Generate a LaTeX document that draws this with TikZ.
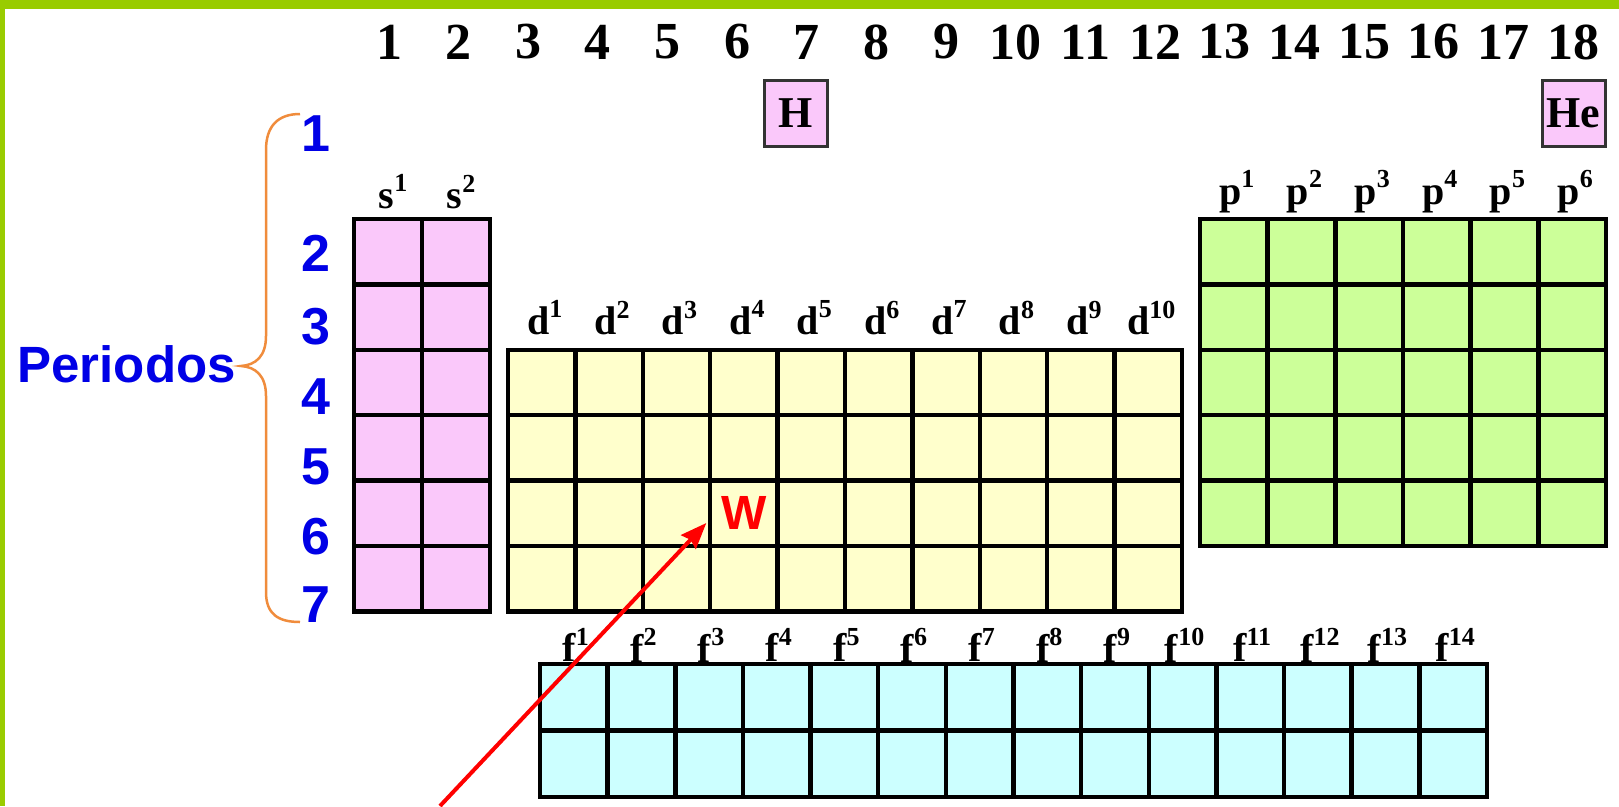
\documentclass[tikz,border=0pt]{standalone}
\usepackage{fontspec}
\setmainfont{Liberation Serif}
\setsansfont{Liberation Sans}
\usetikzlibrary{arrows.meta}

\definecolor{framegreen}{RGB}{153,204,0}
\definecolor{spink}{RGB}{250,200,250}
\definecolor{dyellow}{RGB}{255,255,204}
\definecolor{pgreen}{RGB}{204,255,153}
\definecolor{fcyan}{RGB}{204,255,255}
\definecolor{perblue}{RGB}{0,0,230}
\definecolor{braceorange}{RGB}{240,140,60}

% orbital label with its superscript
\newcommand{\orb}[2]{#1\raisebox{0.42em}{\fontsize{26}{26}\selectfont #2}}

\tikzset{
  groupnum/.style={font=\fontsize{52}{52}\selectfont\bfseries, inner sep=0pt},
  orblabel/.style={font=\fontsize{40}{40}\selectfont\bfseries, inner sep=0pt},
  pernum/.style={font=\fontsize{52}{52}\selectfont\sffamily\bfseries, text=perblue, inner sep=0pt},
  elembox/.style={draw=black!80, line width=3pt, fill=spink, minimum width=63pt,
    minimum height=66pt, font=\fontsize{44}{44}\selectfont\bfseries, inner sep=0pt},
  gridline/.style={line width=4.5pt, black, line cap=rect},
  arrowline/.style={draw=red, line width=4pt, -{Stealth[length=26pt, width=20pt, inset=3pt]}},
}

\begin{document}
\begin{tikzpicture}[x=1pt, y=-1pt]
  \useasboundingbox (0,0) rectangle (1619,806);
  \fill[white] (0,0) rectangle (1619,806);

  % Green frame
  \fill[framegreen] (0,0) rectangle (1619,9);
  \fill[framegreen] (0,0) rectangle (5,806);

  % Group numbers
  \foreach \g in {1,...,18}
    \node[groupnum] (g\g) at ({389+69.65*(\g-1)}, 42) {\g};

  % H and He
  \node[elembox] (H) at (796, 113) {H};
  \node[elembox] (He) at (1573.5, 113) {He};

  % s block
  \fill[spink] (354,219) rectangle (490,611.4);
  \foreach \i in {0,...,2}
    \draw[gridline] ({354+68*\i},219) -- ({354+68*\i},611.4);
  \foreach \j in {0,...,6}
    \draw[gridline] (354,{219+65.4*\j}) -- (490,{219+65.4*\j});
  \foreach \k in {1,2}
    \node[orblabel] (s\k) at ({354+68*(\k-0.5)+5}, 192) {\orb{s}{\k}};

  % d block
  \fill[dyellow] (508,349.8) rectangle (1182,611.4);
  \foreach \i in {0,...,10}
    \draw[gridline] ({508+67.4*\i},349.8) -- ({508+67.4*\i},611.4);
  \foreach \j in {0,...,4}
    \draw[gridline] (508,{349.8+65.4*\j}) -- (1182,{349.8+65.4*\j});
  \foreach \k in {1,...,10}
    \node[orblabel] (d\k) at ({508+67.4*(\k-0.5)+3}, 318) {\orb{d}{\k}};

  % p block
  \fill[pgreen] (1200,219) rectangle (1606,546);
  \foreach \i in {0,...,6}
    \draw[gridline] ({1200+67.67*\i},219) -- ({1200+67.67*\i},546);
  \foreach \j in {0,...,5}
    \draw[gridline] (1200,{219+65.4*\j}) -- (1606,{219+65.4*\j});
  \foreach \k in {1,...,6}
    \node[orblabel] (p\k) at ({1200+67.67*(\k-0.5)+3}, 192) {\orb{p}{\k}};

  % f block
  \fill[fcyan] (540,664) rectangle (1487,797);
  \foreach \i in {0,...,14}
    \draw[gridline] ({540+67.64*\i},664) -- ({540+67.64*\i},797);
  \foreach \j in {0,...,2}
    \draw[gridline] (540,{664+66.5*\j}) -- (1487,{664+66.5*\j});
  \foreach \k in {1,...,14}
    \node[orblabel] (f\k) at ({540+67.64*(\k-0.5)+2}, 645) {\orb{f}{\k}};

  % Periods
  \foreach \p/\y in {1/134, 2/253, 3/327, 4/397, 5/467, 6/537, 7/605}
    \node[pernum] (per\p) at (316, \y) {\p};
  \node[pernum, font=\fontsize{51}{51}\selectfont\sffamily\bfseries, anchor=east]
    (periodos) at (236, 364) {Periodos};
  \draw[braceorange, line width=2.5pt]
    (300,114) .. controls (278,114) and (266,126) .. (266,150) -- (266,336)
    .. controls (266,356) and (256,365) .. (241,366)
    .. controls (256,367) and (266,376) .. (266,396) -- (266,592)
    .. controls (266,614) and (278,622) .. (300,622);

  % Tungsten and arrow
  \node[text=red, font=\fontsize{48}{48}\selectfont\sffamily\bfseries,
    minimum width=67pt, minimum height=65pt, inner sep=0pt] (cellW) at (744, 513) {W};
  \coordinate (tail) at (440, 806);
  \draw[arrowline] (tail) -- ([yshift=-10pt, xshift=-4pt]cellW.west);
\end{tikzpicture}
\end{document}
